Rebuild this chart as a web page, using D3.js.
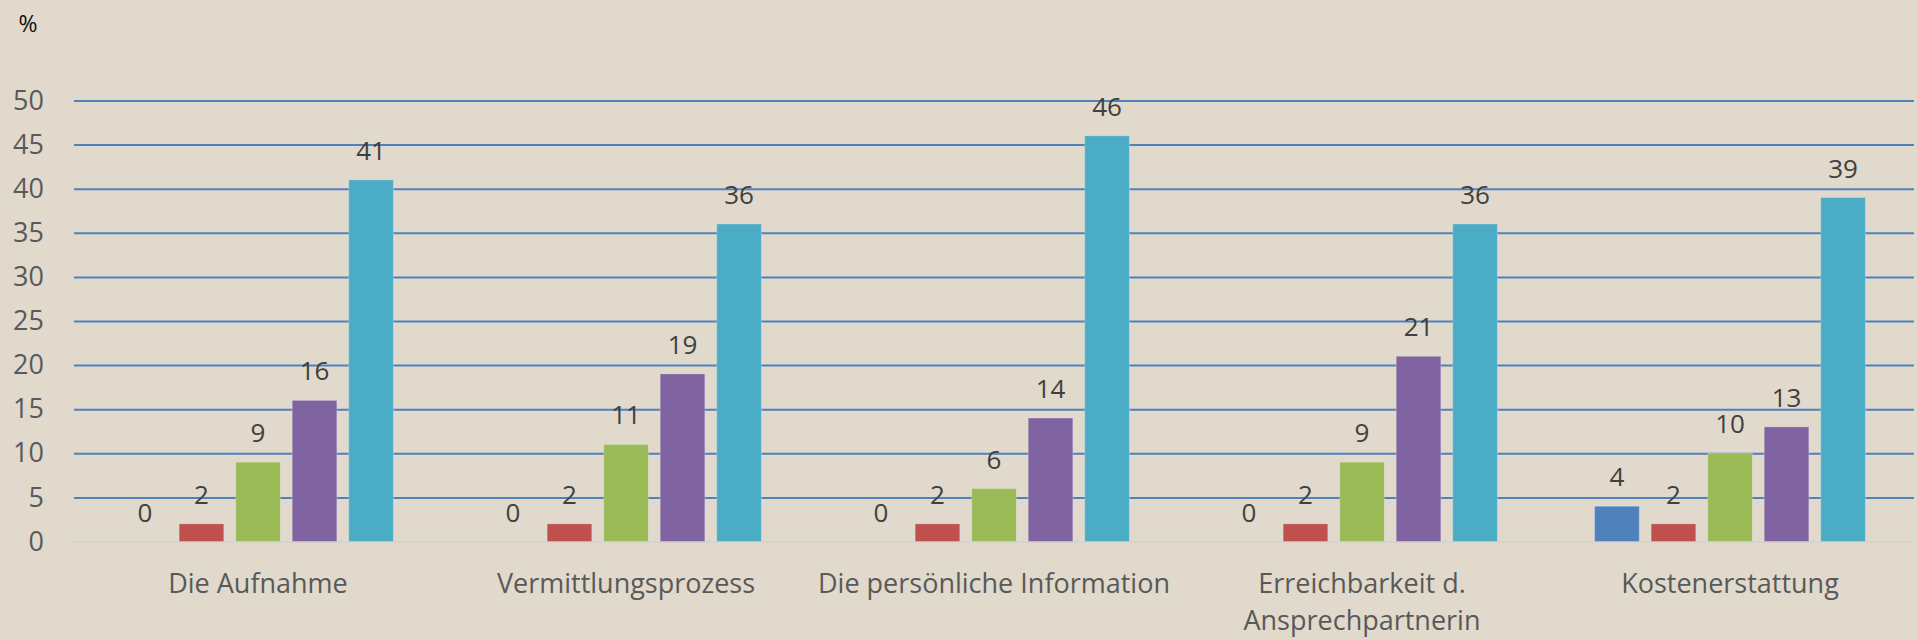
<!DOCTYPE html>
<html>
<head>
<meta charset="utf-8">
<script src="https://cdn.jsdelivr.net/npm/d3@7"></script>
<style>
  body { margin: 0; background: #e0d9cc; }
  svg { display: block; }
</style>
</head>
<body>
<script>
// categories, '\n' marks the forced line break in the axis label
let categories = ['Die Aufnahme', 'Vermittlungsprozess', 'Die persönliche Information', 'Erreichbarkeit d.\nAnsprechpartnerin', 'Kostenerstattung'];
let seriesNames = ['sehr unzufrieden', 'unzufrieden', 'teils/teils', 'zufrieden', 'sehr zufrieden'];
let s1 = [0, 0, 0, 0, 4];
let s2 = [2, 2, 2, 2, 2];
let s3 = [9, 11, 6, 9, 10];
let s4 = [16, 19, 14, 21, 13];
let s5 = [41, 36, 46, 36, 39];
let yTicks = [0, 5, 10, 15, 20, 25, 30, 35, 40, 45, 50];
let colors = ['#4f81bd', '#c0504d', '#9bbb59', '#8064a2', '#4bacc6'];

let allSeries = [s1, s2, s3, s4, s5];

let svgWidth = 1917, svgHeight = 640;
let plotLeft = 74, plotRight = 1914, plotTop = 100.5, plotBottom = 541.5;

let svg = d3.select('body').append('svg')
svg.attr('width', svgWidth).attr('height', svgHeight)
    .style('font-family', '"Open Sans", sans-serif')

let x0 = d3.scaleBand()
    .domain(categories)
    .range([plotLeft, plotRight])

let x1 = d3.scaleBand()
    .domain(seriesNames)
    .range([0, x0.bandwidth()])
    .paddingInner(0.21)
    .paddingOuter(0.86)

let yScale = d3.scaleLinear()
    .domain([0, 50])
    .range([plotBottom, plotTop])

// gridlines
let grid = svg.append('g')
    .attr('transform', 'translate(' + plotLeft + ',0)')
    .call(d3.axisLeft(yScale).tickValues(yTicks).tickSize(-(plotRight - plotLeft)).tickFormat(''))
grid.select('.domain').remove()
grid.selectAll('line')
    .attr('stroke', (d) => d === 0 ? '#d6d2cc' : '#4f81bd')
    .attr('stroke-width', 2)

// y tick labels
let yAxis = svg.append('g')
    .attr('transform', 'translate(44,0)')
    .call(d3.axisLeft(yScale).tickValues(yTicks).tickSize(0).tickPadding(0))
yAxis.select('.domain').remove()
yAxis.selectAll('text')
    .attr('fill', '#595959')
    .style('font-size', '27px')
    .style('font-family', '"Open Sans", sans-serif')

svg.append('text')
    .attr('x', 28).attr('y', 32)
    .attr('text-anchor', 'middle')
    .attr('fill', '#111')
    .style('font-size', '23px')
    .text('%')

let groups = svg.selectAll('g.cat')
    .data(categories)
    .enter()
    .append('g')
    .attr('class', 'cat')
    .attr('transform', (d) => 'translate(' + x0(d) + ',0)')

groups.selectAll('rect')
    .data((d, i) => allSeries.map((s, j) => ({ name: seriesNames[j], value: s[i], color: colors[j] })))
    .enter()
    .append('rect')
    .attr('x', (d) => x1(d.name))
    .attr('width', x1.bandwidth())
    .attr('y', (d) => yScale(d.value))
    .attr('height', (d) => plotBottom - yScale(d.value))
    .attr('fill', (d) => d.color)
    .attr('stroke', (d) => d.value > 0 ? 'rgba(255,255,255,0.25)' : 'none')
    .attr('stroke-width', 1)

groups.selectAll('text.val')
    .data((d, i) => allSeries.map((s, j) => ({ name: seriesNames[j], value: s[i] })))
    .enter()
    .append('text')
    .attr('class', 'val')
    .attr('x', (d) => x1(d.name) + x1.bandwidth() / 2)
    .attr('y', (d) => yScale(d.value) - 20)
    .attr('text-anchor', 'middle')
    .attr('fill', '#404040')
    .style('font-size', '26px')
    .text((d) => d.value)

// category labels
let catLabels = svg.selectAll('text.catlabel')
    .data(categories)
    .enter()
    .append('text')
    .attr('class', 'catlabel')
    .attr('x', (d) => x0(d) + x0.bandwidth() / 2)
    .attr('y', 593)
    .attr('text-anchor', 'middle')
    .attr('fill', '#595959')
    .style('font-size', '27px')

catLabels.selectAll('tspan')
    .data((d) => d.split('\n'))
    .enter()
    .append('tspan')
    .attr('x', function () { return this.parentNode.getAttribute('x') })
    .attr('dy', (d, i) => i === 0 ? 0 : 37)
    .text((d) => d)
</script>
</body>
</html>
